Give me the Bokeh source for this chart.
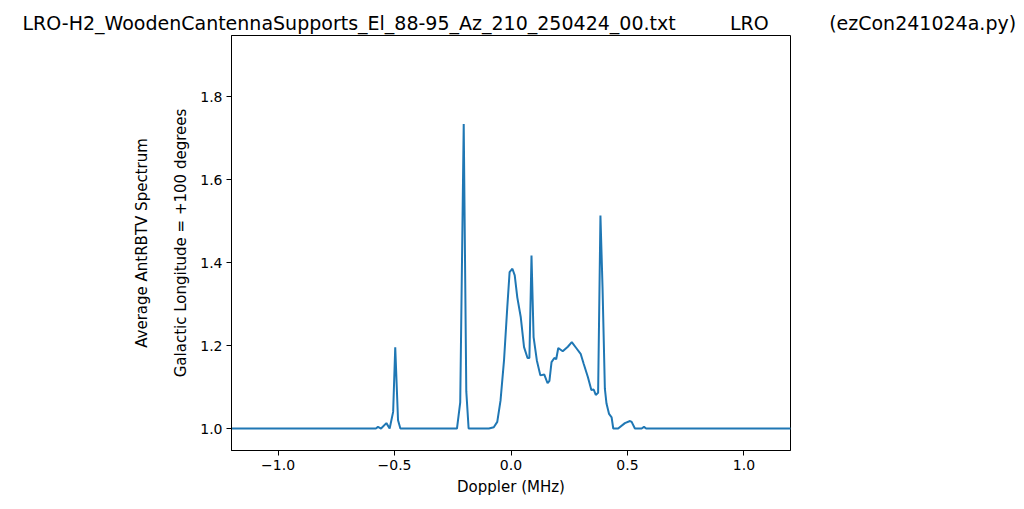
from bokeh.plotting import figure
from bokeh.models import LinearAxis, FixedTicker, Range1d
from bokeh.embed import file_html
from bokeh.resources import INLINE

doppler_mhz = [-1.25, -0.80, -0.58, -0.571, -0.558, -0.535, -0.521, -0.506, -0.497, -0.485, -0.475,
               -0.35, -0.232, -0.218, -0.203, -0.192, -0.182, -0.12, -0.095, -0.074, -0.059,
               -0.045, -0.030, -0.016, -0.006, 0.006, 0.016, 0.027, 0.042, 0.056, 0.071,
               0.079, 0.088, 0.097, 0.111, 0.126, 0.143, 0.157, 0.165, 0.174, 0.186,
               0.194, 0.203, 0.222, 0.244, 0.261, 0.280, 0.299, 0.312, 0.330, 0.345,
               0.355, 0.364, 0.374, 0.384, 0.393, 0.403, 0.410, 0.421, 0.432, 0.439,
               0.460, 0.489, 0.511, 0.518, 0.532, 0.561, 0.571, 0.580, 0.80, 1.25]
spectrum = [1.0, 1.0, 1.0, 1.004, 1.0, 1.013, 1.0, 1.04, 1.196, 1.02, 1.0,
            1.0, 1.0, 1.063, 1.734, 1.09, 1.0, 1.0, 1.0, 1.003, 1.016,
            1.067, 1.164, 1.292, 1.377, 1.385, 1.369, 1.316, 1.268, 1.196, 1.170,
            1.170, 1.417, 1.22, 1.164, 1.128, 1.130, 1.109, 1.115, 1.16, 1.17,
            1.167, 1.194, 1.186, 1.197, 1.208, 1.194, 1.18, 1.156, 1.124, 1.093,
            1.094, 1.081, 1.086, 1.513, 1.34, 1.096, 1.06, 1.035, 1.027, 1.0,
            1.0, 1.013, 1.018, 1.016, 1.0, 1.0, 1.004, 1.0, 1.0, 1.0]

x_ticks = [-1.0, -0.5, 0.0, 0.5, 1.0]
x_tick_labels = ["\u22121.0", "\u22120.5", "0.0", "0.5", "1.0"]
y_ticks = [1.0, 1.2, 1.4, 1.6, 1.8]
y_tick_labels = ["1.0", "1.2", "1.4", "1.6", "1.8"]

title_text = ("LRO-H2_WoodenCantennaSupports_El_88-95_Az_210_250424_00.txt"
              + "\u00a0" * 9 + "LRO" + "\u00a0" * 10 + "(ezCon241024a.py)")

FONT = "DejaVu Sans"

p = figure(width=1024, height=509, output_backend="svg", toolbar_location=None,
           x_range=Range1d(-1.2, 1.2), y_range=Range1d(0.947, 1.947),
           min_border_left=231, min_border_right=234, min_border_top=35,
           min_border_bottom=59)

p.line(doppler_mhz, spectrum, line_color="#1f77b4", line_width=2)

p.grid.visible = False
p.outline_line_color = "black"
p.outline_line_alpha = 1.0
p.outline_line_width = 1
p.background_fill_color = "white"
p.border_fill_color = "white"

p.title.text = title_text
p.title.align = "left"
p.title.offset = -209
p.title.text_font = FONT
p.title.text_font_size = "19px"
p.title.text_font_style = "normal"
p.title.text_color = "black"
p.title.standoff = 3

for ax in (p.xaxis[0], p.yaxis[0]):
    ax.major_tick_out = 5
    ax.major_tick_in = 0
    ax.minor_tick_out = 0
    ax.minor_tick_in = 0
    ax.major_tick_line_width = 1
    ax.axis_line_color = "black"
    ax.major_label_text_font = FONT
    ax.major_label_text_font_size = "14px"
    ax.major_label_text_color = "black"
    ax.axis_label_text_font = FONT
    ax.axis_label_text_font_size = "15px"
    ax.axis_label_text_font_style = "normal"
    ax.axis_label_text_color = "black"

p.xaxis[0].ticker = FixedTicker(ticks=x_ticks)
p.xaxis[0].major_label_overrides = {t: l for t, l in zip(x_ticks, x_tick_labels)}
p.xaxis[0].axis_label = "Doppler (MHz)"
p.xaxis[0].major_label_standoff = 4
p.xaxis[0].axis_label_standoff = 5

p.yaxis[0].ticker = FixedTicker(ticks=y_ticks)
p.yaxis[0].major_label_overrides = {t: l for t, l in zip(y_ticks, y_tick_labels)}
p.yaxis[0].axis_label = "Galactic Longitude = +100 degrees"
p.yaxis[0].major_label_standoff = 4
p.yaxis[0].axis_label_standoff = 7

outer = LinearAxis(ticker=FixedTicker(ticks=[]), axis_label="Average AntRBTV Spectrum",
                   axis_line_color=None, major_tick_line_color=None,
                   minor_tick_line_color=None, axis_label_text_font=FONT,
                   axis_label_text_font_size="15px", axis_label_text_font_style="normal",
                   axis_label_text_color="black", axis_label_standoff=19)
p.add_layout(outer, "left")

open("out.html", "w").write(file_html(p, INLINE))
